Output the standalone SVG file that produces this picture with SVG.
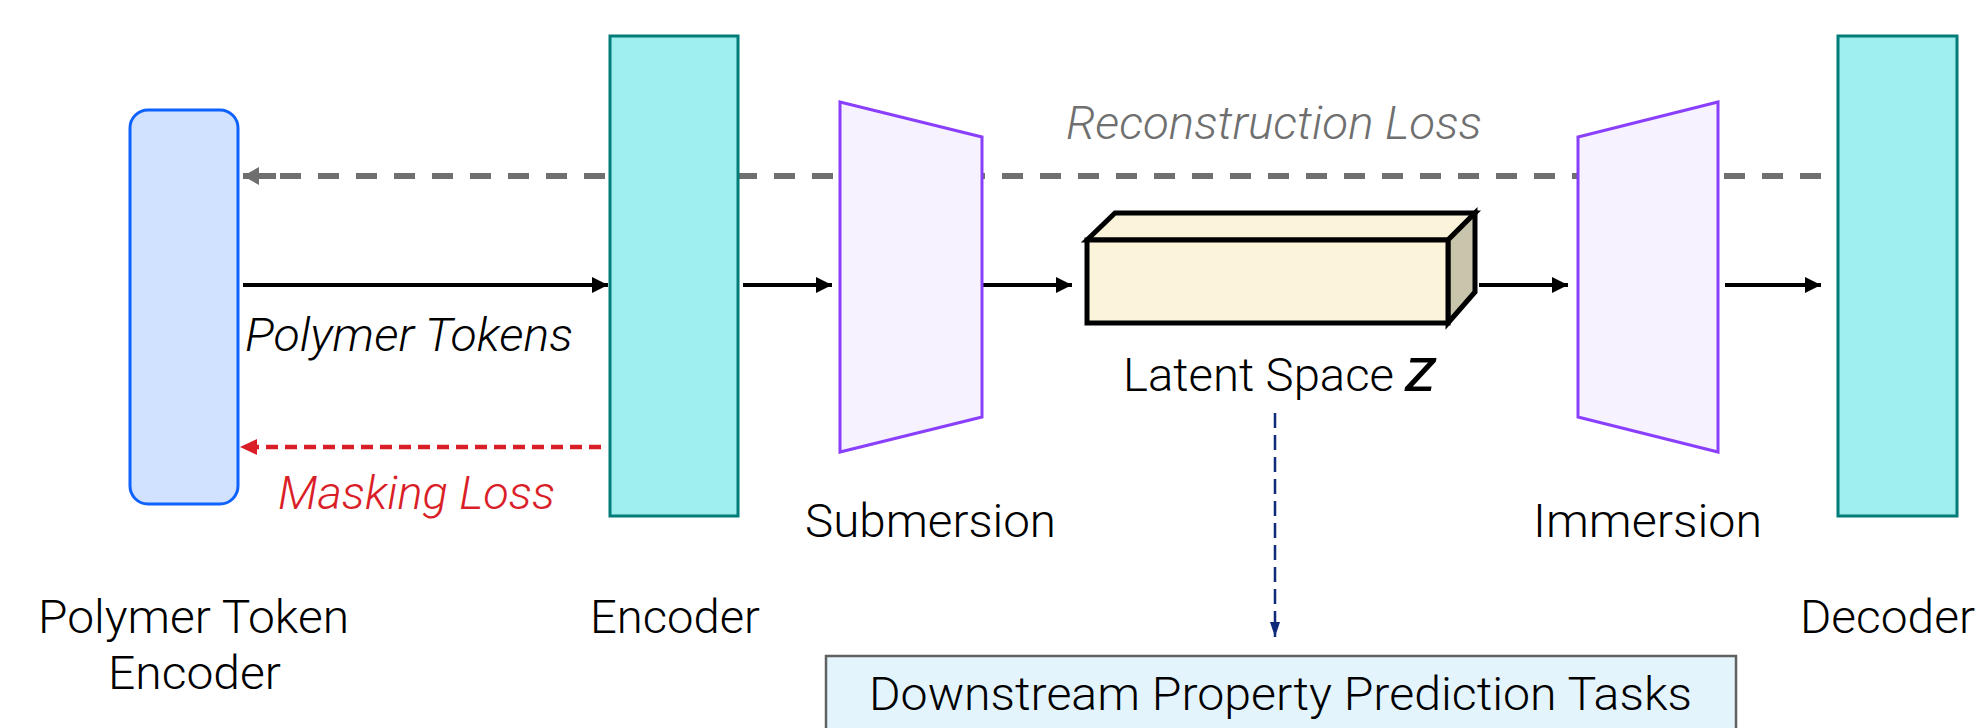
<svg xmlns="http://www.w3.org/2000/svg" width="1983" height="728" viewBox="0 0 1983 728">
<style>
.t{font-family:Roboto,"Liberation Sans",sans-serif;font-weight:300;font-size:46px;fill:#000}
.i{font-style:italic}
.enc{fill:#9FEFEE;stroke:#007D79;stroke-width:3}
.trap{fill:#F6F2FF;stroke:#8A3FFC;stroke-width:3;stroke-linejoin:miter}
.solid{fill:none;stroke:#000;stroke-width:4}
</style>
<defs>
<marker id="ab" markerUnits="userSpaceOnUse" markerWidth="18" markerHeight="18" refX="16" refY="8" orient="auto"><path d="M0,0 L16,8 L0,16 z" fill="#000"/></marker>
<marker id="ag" markerUnits="userSpaceOnUse" markerWidth="18" markerHeight="20" refX="16" refY="9" orient="auto"><path d="M0,0 L16,9 L0,18 z" fill="#6F6F6F"/></marker>
<marker id="ar" markerUnits="userSpaceOnUse" markerWidth="18" markerHeight="18" refX="17" refY="8" orient="auto"><path d="M0,0 L17,8 L0,16 z" fill="#DA1E28"/></marker>
<marker id="an" markerUnits="userSpaceOnUse" markerWidth="18" markerHeight="12" refX="15" refY="5" orient="auto"><path d="M0,0 L15,5 L0,10 z" fill="#0F2A78"/></marker>
</defs>
<rect width="1983" height="728" fill="#fff"/>
<g id="connectors">
<path d="M1821,176 H262" fill="none" stroke="#6F6F6F" stroke-width="6" stroke-dasharray="21 17"/>
<path d="M276,176 H243" fill="none" stroke="#6F6F6F" stroke-width="6" marker-end="url(#ag)"/>
<path d="M601,447 H240" fill="none" stroke="#DA1E28" stroke-width="4.5" stroke-dasharray="12 7" marker-end="url(#ar)"/>
<path d="M243,285 H608" class="solid" marker-end="url(#ab)"/>
<path d="M743,285 H832" class="solid" marker-end="url(#ab)"/>
<path d="M983,285 H1072" class="solid" marker-end="url(#ab)"/>
<path d="M1479,285 H1568" class="solid" marker-end="url(#ab)"/>
<path d="M1725,285 H1821" class="solid" marker-end="url(#ab)"/>
<path d="M1275,413 V637" fill="none" stroke="#0F2A78" stroke-width="2.5" stroke-dasharray="15 7" marker-end="url(#an)"/>
</g>
<g id="polymer-token-encoder">
<rect x="130" y="110" width="108" height="394" rx="18" ry="18" fill="#D0E2FF" stroke="#0F62FE" stroke-width="3"/>
<text class="t" x="38" y="633" textLength="311" lengthAdjust="spacingAndGlyphs">Polymer Token</text>
<text class="t" x="108" y="689" textLength="173" lengthAdjust="spacingAndGlyphs">Encoder</text>
</g>
<g id="encoder">
<rect class="enc" x="610" y="36" width="128" height="480"/>
<text class="t" x="590" y="633" textLength="170" lengthAdjust="spacingAndGlyphs">Encoder</text>
</g>
<g id="submersion">
<polygon class="trap" points="840,102 982,137 982,417 840,452"/>
<text class="t" x="805" y="537" textLength="251" lengthAdjust="spacingAndGlyphs">Submersion</text>
</g>
<g id="latent-space">
<polygon points="1087,240 1115,213 1475,213 1448,240" fill="#FBF3DA" stroke="#000" stroke-width="5" stroke-linejoin="miter"/>
<polygon points="1448,240 1475,213 1475,292 1448,323" fill="#C9C4AC" stroke="#000" stroke-width="5" stroke-linejoin="miter"/>
<rect x="1087" y="240" width="361" height="83" fill="#FBF3DA" stroke="#000" stroke-width="5"/>
<text class="t" x="1123" y="391" textLength="271" lengthAdjust="spacingAndGlyphs">Latent Space</text>
<text class="t" x="1405" y="391" style="font-style:italic;font-weight:500" textLength="30" lengthAdjust="spacingAndGlyphs">Z</text>
</g>
<g id="immersion">
<polygon class="trap" points="1578,137 1718,102 1718,452 1578,417"/>
<text class="t" x="1533" y="537" textLength="229" lengthAdjust="spacingAndGlyphs">Immersion</text>
</g>
<g id="decoder">
<rect class="enc" x="1838" y="36" width="119" height="480"/>
<text class="t" x="1800" y="633" textLength="175" lengthAdjust="spacingAndGlyphs">Decoder</text>
</g>
<g id="downstream">
<rect x="826" y="656" width="910" height="90" fill="#E3F4FD" stroke="#616161" stroke-width="2.5"/>
<text class="t" x="869" y="710" textLength="823" lengthAdjust="spacingAndGlyphs">Downstream Property Prediction Tasks</text>
</g>
<g id="labels">
<text class="t i" x="1066" y="139" style="fill:#6F6F6F" textLength="416" lengthAdjust="spacingAndGlyphs">Reconstruction Loss</text>
<text class="t i" x="245" y="351" textLength="328" lengthAdjust="spacingAndGlyphs">Polymer Tokens</text>
<text class="t i" x="278" y="509" style="fill:#DA1E28" textLength="277" lengthAdjust="spacingAndGlyphs">Masking Loss</text>
</g>
</svg>
